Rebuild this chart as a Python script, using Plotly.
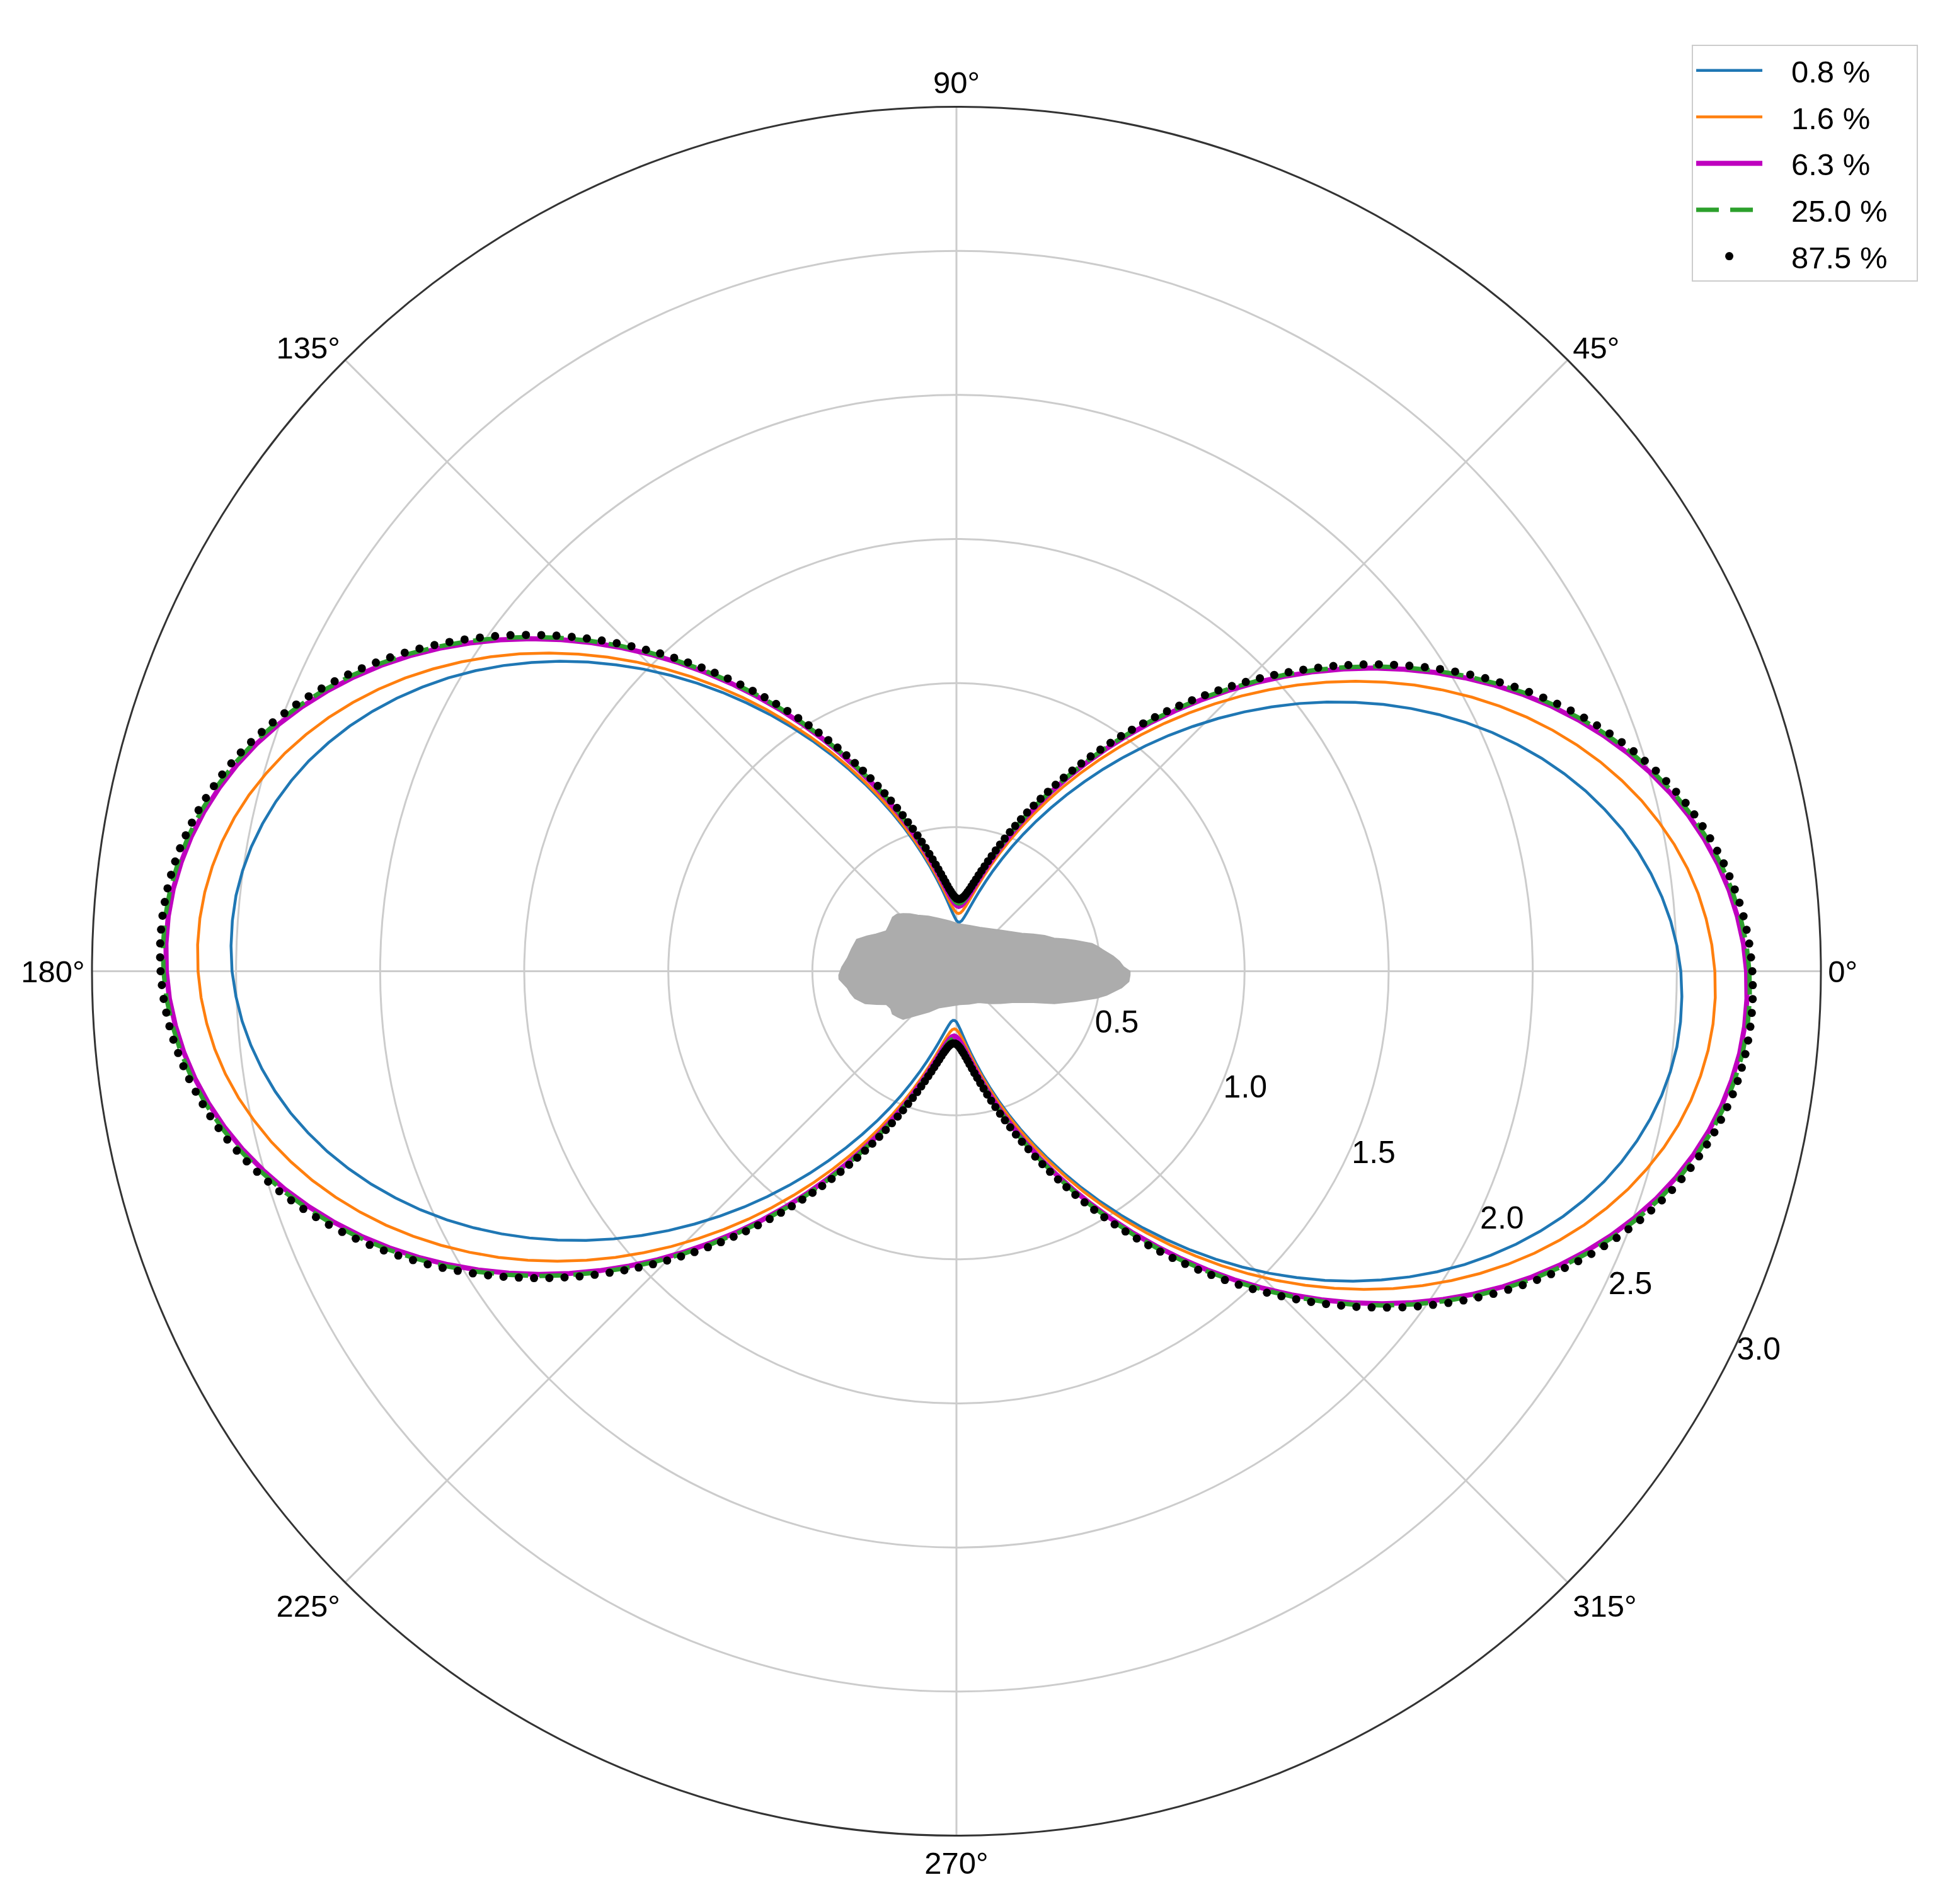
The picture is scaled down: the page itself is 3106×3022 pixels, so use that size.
import plotly.graph_objects as go

# ---------------- data ----------------
series_labels = ["0.8 %", "1.6 %", "6.3 %", "25.0 %", "87.5 %"]

# angle grids (degrees)
theta_dense = list(range(0, 360))            # 1 deg sampling (87.5 % markers)
theta_line = list(range(0, 360, 2)) + [360]  # 2 deg sampling (lines)

# the pattern repeats every 180 deg, so each half is listed once
r_875_half = [
    2.762, 2.758, 2.753, 2.746, 2.738, 2.728, 2.716, 2.703, 2.689, 2.673,
    2.656, 2.638, 2.618, 2.597, 2.574, 2.550, 2.525, 2.498, 2.471, 2.442,
    2.412, 2.381, 2.349, 2.316, 2.282, 2.247, 2.211, 2.174, 2.136, 2.098,
    2.059, 2.019, 1.979, 1.938, 1.896, 1.854, 1.812, 1.769, 1.726, 1.683,
    1.639, 1.595, 1.551, 1.508, 1.464, 1.420, 1.376, 1.333, 1.289, 1.246,
    1.203, 1.161, 1.119, 1.077, 1.036, 0.996, 0.956, 0.917, 0.879, 0.841,
    0.804, 0.768, 0.733, 0.699, 0.666, 0.634, 0.603, 0.573, 0.544, 0.517,
    0.490, 0.465, 0.441, 0.418, 0.397, 0.377, 0.359, 0.342, 0.326, 0.312,
    0.299, 0.287, 0.278, 0.269, 0.262, 0.257, 0.253, 0.251, 0.250, 0.251,
    0.253, 0.257, 0.262, 0.269, 0.278, 0.287, 0.299, 0.312, 0.326, 0.342,
    0.359, 0.377, 0.397, 0.418, 0.441, 0.465, 0.490, 0.517, 0.544, 0.573,
    0.603, 0.634, 0.666, 0.699, 0.733, 0.768, 0.804, 0.841, 0.879, 0.917,
    0.956, 0.996, 1.036, 1.077, 1.119, 1.161, 1.203, 1.246, 1.289, 1.333,
    1.376, 1.420, 1.464, 1.508, 1.551, 1.595, 1.639, 1.683, 1.726, 1.769,
    1.812, 1.854, 1.896, 1.938, 1.979, 2.019, 2.059, 2.098, 2.136, 2.174,
    2.211, 2.247, 2.282, 2.316, 2.349, 2.381, 2.412, 2.442, 2.471, 2.498,
    2.525, 2.550, 2.574, 2.597, 2.618, 2.638, 2.656, 2.673, 2.689, 2.703,
    2.716, 2.728, 2.738, 2.746, 2.753, 2.758, 2.762, 2.764, 2.765, 2.764,
]

r_250_half = [
    2.752, 2.743, 2.727, 2.706, 2.679, 2.646, 2.608, 2.564, 2.514, 2.460,
    2.401, 2.338, 2.271, 2.200, 2.125, 2.047, 1.967, 1.884, 1.800, 1.714,
    1.627, 1.539, 1.451, 1.363, 1.276, 1.190, 1.106, 1.023, 0.943, 0.865,
    0.790, 0.719, 0.652, 0.589, 0.530, 0.476, 0.426, 0.382, 0.344, 0.311,
    0.284, 0.263, 0.247, 0.238, 0.235,
    0.238, 0.247, 0.263, 0.284, 0.311, 0.344, 0.382, 0.426, 0.476, 0.530,
    0.589, 0.652, 0.719, 0.790, 0.865, 0.943, 1.023, 1.106, 1.190, 1.276,
    1.363, 1.451, 1.539, 1.627, 1.714, 1.800, 1.884, 1.967, 2.047, 2.125,
    2.200, 2.271, 2.338, 2.401, 2.460, 2.514, 2.564, 2.608, 2.646, 2.679,
    2.706, 2.727, 2.743, 2.752, 2.755,
]

r_063_half = [
    2.742, 2.733, 2.717, 2.696, 2.669, 2.636, 2.598, 2.554, 2.504, 2.450,
    2.391, 2.328, 2.261, 2.190, 2.115, 2.037, 1.957, 1.874, 1.790, 1.704,
    1.617, 1.529, 1.441, 1.353, 1.266, 1.180, 1.096, 1.013, 0.933, 0.855,
    0.780, 0.709, 0.642, 0.579, 0.520, 0.466, 0.416, 0.372, 0.334, 0.301,
    0.274, 0.253, 0.237, 0.228, 0.225,
    0.228, 0.237, 0.253, 0.274, 0.301, 0.334, 0.372, 0.416, 0.466, 0.520,
    0.579, 0.642, 0.709, 0.780, 0.855, 0.933, 1.013, 1.096, 1.180, 1.266,
    1.353, 1.441, 1.529, 1.617, 1.704, 1.790, 1.874, 1.957, 2.037, 2.115,
    2.190, 2.261, 2.328, 2.391, 2.450, 2.504, 2.554, 2.598, 2.636, 2.669,
    2.696, 2.717, 2.733, 2.742, 2.745,
]

r_016_half = [
    2.632, 2.623, 2.608, 2.588, 2.562, 2.530, 2.492, 2.450, 2.402, 2.350,
    2.293, 2.232, 2.167, 2.098, 2.026, 1.951, 1.874, 1.794, 1.712, 1.629,
    1.545, 1.460, 1.375, 1.290, 1.206, 1.123, 1.041, 0.961, 0.884, 0.809,
    0.737, 0.668, 0.603, 0.542, 0.485, 0.433, 0.385, 0.343, 0.305, 0.273,
    0.247, 0.227, 0.212, 0.203, 0.200,
    0.203, 0.212, 0.227, 0.247, 0.273, 0.305, 0.343, 0.385, 0.433, 0.485,
    0.542, 0.603, 0.668, 0.737, 0.809, 0.884, 0.961, 1.041, 1.123, 1.206,
    1.290, 1.375, 1.460, 1.545, 1.629, 1.712, 1.794, 1.874, 1.951, 2.026,
    2.098, 2.167, 2.232, 2.293, 2.350, 2.402, 2.450, 2.492, 2.530, 2.562,
    2.588, 2.608, 2.623, 2.632, 2.635,
]

r_008_half = [
    2.514, 2.502, 2.485, 2.462, 2.434, 2.401, 2.363, 2.319, 2.271, 2.218,
    2.161, 2.100, 2.036, 1.968, 1.897, 1.823, 1.747, 1.669, 1.589, 1.509,
    1.427, 1.345, 1.263, 1.181, 1.101, 1.021, 0.943, 0.867, 0.793, 0.722,
    0.654, 0.590, 0.529, 0.472, 0.419, 0.371, 0.327, 0.289, 0.256, 0.228,
    0.205, 0.188, 0.176, 0.171, 0.171,
    0.176, 0.188, 0.205, 0.228, 0.256, 0.289, 0.327, 0.371, 0.419, 0.472,
    0.529, 0.590, 0.654, 0.722, 0.793, 0.867, 0.943, 1.021, 1.101, 1.181,
    1.263, 1.345, 1.427, 1.509, 1.589, 1.669, 1.747, 1.823, 1.897, 1.968,
    2.036, 2.100, 2.161, 2.218, 2.271, 2.319, 2.363, 2.401, 2.434, 2.462,
    2.485, 2.502, 2.514, 2.519, 2.519,
]

# grey measured cloud in the centre (outline)
blob_theta = [0, 1.5, 3.5, 5.5, 8.3, 10.0, 11.5, 14.5, 16.5, 18.6, 22.0, 25.7, 30.0,
              35.0, 42.0, 50.5, 62.0, 73.0, 88.5, 98.0, 108.5, 117.0, 124.6, 129.0,
              132.9, 136.3, 139.8, 146.9, 150.2, 155.3, 158.5, 162.3, 168.0, 173.2,
              178.0, 181.9, 183.9, 188.6, 191.5, 194.9, 199.5, 202.5, 205.4, 209.5,
              213.8, 218.0, 222.0, 228.6, 236.0, 244.2, 258.0, 275.8, 291.0, 305.5,
              317.2, 324.0, 330.8, 337.9, 341.8, 345.8, 349.1, 351.0, 354.3, 356.6,
              358.7, 360]
blob_r = [0.602, 0.580, 0.566, 0.546, 0.513, 0.497, 0.480, 0.426, 0.392, 0.358,
          0.330, 0.296, 0.262, 0.237, 0.212, 0.190, 0.172, 0.165, 0.165, 0.176,
          0.193, 0.214, 0.236, 0.256, 0.272, 0.286, 0.290, 0.282, 0.281, 0.308,
          0.333, 0.363, 0.372, 0.381, 0.398, 0.408, 0.408, 0.383, 0.376, 0.365,
          0.336, 0.300, 0.269, 0.262, 0.267, 0.258, 0.249, 0.203, 0.170, 0.141,
          0.124, 0.116, 0.122, 0.133, 0.165, 0.190, 0.222, 0.288, 0.358, 0.426,
          0.494, 0.528, 0.576, 0.599, 0.602, 0.602]

radial_ticks = [0.5, 1.0, 1.5, 2.0, 2.5, 3.0]
radial_ticktext = ["0.5", "1.0", "1.5", "2.0", "2.5", "3.0"]
angle_ticks = [0, 45, 90, 135, 180, 225, 270, 315]
angle_ticktext = ["0°", "45°", "90°", "135°", "180°", "225°", "270°", "315°"]

# ---------------- full series ----------------
r_875 = r_875_half + r_875_half
r_250 = r_250_half + r_250_half + [r_250_half[0]]
r_063 = r_063_half + r_063_half + [r_063_half[0]]
r_016 = r_016_half + r_016_half + [r_016_half[0]]
r_008 = r_008_half + r_008_half + [r_008_half[0]]

FONT = "Liberation Sans, Arial, Helvetica, sans-serif"
PAD = "\u00a0\u00a0\u00a0"


def legend_name(label):
    return PAD + label + PAD


fig = go.Figure()

fig.add_trace(go.Scatterpolar(
    theta=blob_theta, r=blob_r, mode="lines", fill="toself",
    fillcolor="#acacac", line=dict(color="#acacac", width=2),
    showlegend=False, hoverinfo="skip"))

fig.add_trace(go.Scatterpolar(
    theta=theta_line, r=r_008, mode="lines", name=legend_name(series_labels[0]),
    line=dict(color="#1f77b4", width=4.5), legendgroup="a"))
fig.add_trace(go.Scatterpolar(
    theta=theta_line, r=r_016, mode="lines", name=legend_name(series_labels[1]),
    line=dict(color="#ff7f0e", width=4.5), legendgroup="b"))
fig.add_trace(go.Scatterpolar(
    theta=theta_line, r=r_063, mode="lines", name=legend_name(series_labels[2]),
    line=dict(color="#bf00bf", width=8), legendgroup="c"))
fig.add_trace(go.Scatterpolar(
    theta=theta_line, r=r_250, mode="lines", name=legend_name(series_labels[3]),
    line=dict(color="#2ca02c", width=7, dash="36px,18px"), legendgroup="d"))
fig.add_trace(go.Scatterpolar(
    theta=theta_dense, r=r_875, mode="markers", name=legend_name(series_labels[4]),
    marker=dict(color="black", size=13), legendgroup="e"))

fig.update_layout(
    width=3106, height=3022,
    margin=dict(l=0, r=0, t=0, b=0),
    paper_bgcolor="white",
    font=dict(family=FONT, size=49, color="black"),
    polar=dict(
        domain=dict(x=[0.04443, 0.92788], y=[0.03855, 0.94656]),
        bgcolor="white",
        radialaxis=dict(
            range=[0, 3], tickmode="array", tickvals=radial_ticks,
            ticktext=[t + "\u00a0" for t in radial_ticktext],
            angle=-27, tickangle=-27,
            side="counterclockwise", showline=False, ticks="",
            gridcolor="#cccccc", gridwidth=2.5,
            tickfont=dict(family=FONT, size=50, color="black"),
        ),
        angularaxis=dict(
            tickmode="array", tickvals=angle_ticks, ticktext=angle_ticktext,
            direction="counterclockwise", rotation=0, ticks="",
            showline=True, linecolor="#333333", linewidth=3,
            gridcolor="#cccccc", gridwidth=2.5,
            tickfont=dict(family=FONT, size=49, color="black"),
        ),
    ),
    legend=dict(
        x=0.8619, y=0.979, xanchor="left", yanchor="top",
        bgcolor="white", bordercolor="#cccccc", borderwidth=2,
        font=dict(family=FONT, size=49, color="black"),
        itemwidth=105, tracegroupgap=7,
    ),
)

fig.write_html("out.html")
